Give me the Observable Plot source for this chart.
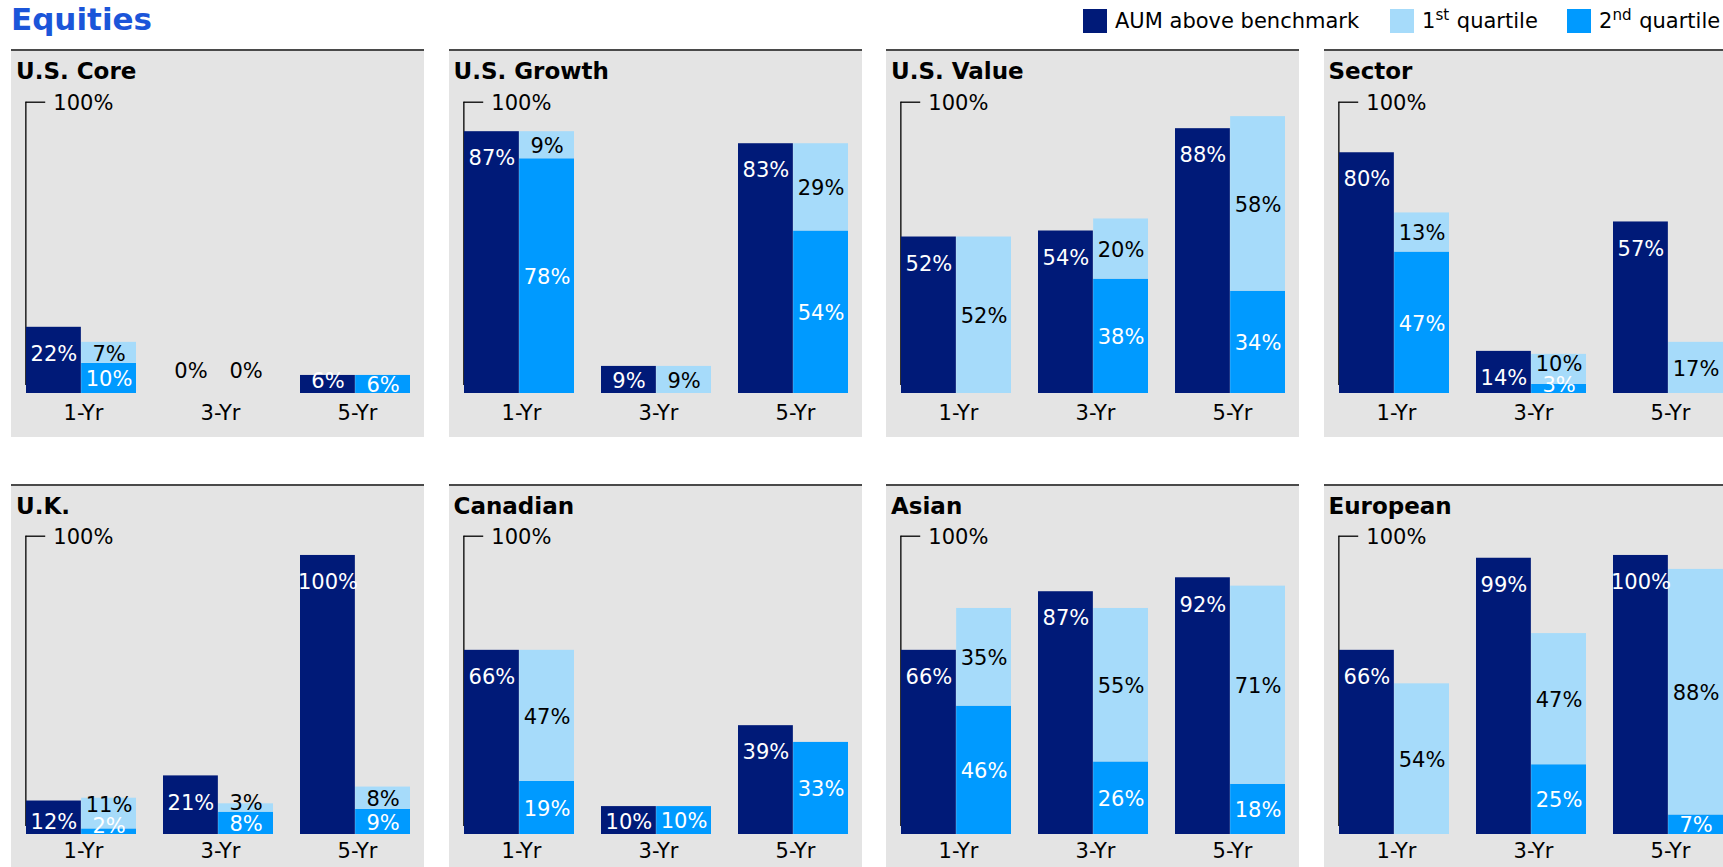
<!DOCTYPE html>
<html>
<head>
<meta charset="utf-8">
<script src="https://cdn.jsdelivr.net/npm/d3@7"></script>
<script src="https://cdn.jsdelivr.net/npm/@observablehq/plot@0.6"></script>
<style>
  html, body { margin: 0; padding: 0; background: #fff; }
  body { width: 1723px; height: 867px; overflow: hidden; font-family: "DejaVu Sans", Verdana, sans-serif; }
  #root { position: relative; width: 1723px; height: 867px; overflow: hidden; }
  .title { position: absolute; left: 11px; top: 4px; font-size: 31px; font-weight: bold; color: #1b55d9; line-height: 1; white-space: nowrap; }
  .legend-item { position: absolute; top: 9px; height: 24px; display: flex; align-items: center; font-size: 21px; line-height: 1; color: #000; white-space: nowrap; }
  .sw { width: 24px; height: 24px; margin-right: 8px; flex: none; }
  .legend-item sup { font-size: 0.72em; line-height: 0; vertical-align: 0.5em; margin-right: 1px; }
  .panel { position: absolute; width: 413px; height: 386px; border-top: 2px solid #4a4a4a; background: #e4e4e4; }
  .ptitle { position: absolute; left: 5px; top: 8.7px; font-size: 23px; font-weight: bold; line-height: 1; color: #000; white-space: nowrap; z-index: 2; }
  .panel svg { position: absolute; left: 0; top: 0; overflow: visible; }
</style>
</head>
<body>
<div id="root"></div>
<script>
// ---------------- data ----------------
const chartTitle = "Equities";
const periods = ["1-Yr", "3-Yr", "5-Yr"];
const panelNames = ["U.S. Core", "U.S. Growth", "U.S. Value", "Sector", "U.K.", "Canadian", "Asian", "European"];
const seriesNames = ["AUM above benchmark", "1st quartile", "2nd quartile"];
const seriesColors = ["#001a78", "#a6dbfa", "#009aff"];
const axisTickLabel = "100%";

// % of AUM above benchmark, per panel, per period
const aumAbove = [
  [22, 0, 6],
  [87, 9, 83],
  [52, 54, 88],
  [80, 14, 57],
  [12, 21, 100],
  [66, 10, 39],
  [66, 87, 92],
  [66, 99, 100]
];
// 1st quartile share (null = not shown)
const firstQuartile = [
  [7, 0, null],
  [9, 9, 29],
  [52, 20, 58],
  [13, 10, 17],
  [11, 3, 8],
  [47, null, null],
  [35, 55, 71],
  [54, 47, 88]
];
// 2nd quartile share (null = not shown)
const secondQuartile = [
  [10, null, 6],
  [78, null, 54],
  [null, 38, 34],
  [47, 3, null],
  [2, 8, 9],
  [19, 10, 33],
  [46, 26, 18],
  [null, 25, 7]
];

// ---------------- layout ----------------
const rowLayout = [
  { top: 49, baseline: 342, marginTop: 50.7, yTop: 96.8, xPad: 12 },
  { top: 484, baseline: 348, marginTop: 49.7, yTop: 106.9, xPad: 9 }
];
const panelW = 413, panelH = 386, colPitch = 437.5, firstLeft = 11;
const mL = 14, mR = 13.7, padInner = 0.198;

const root = document.getElementById("root");

// title
const t = document.createElement("div");
t.className = "title";
t.textContent = chartTitle;
root.appendChild(t);

// legend
const legendLefts = [1083, 1390, 1567];
seriesNames.forEach((name, i) => {
  const item = document.createElement("div");
  item.className = "legend-item";
  item.style.left = legendLefts[i] + "px";
  const sw = document.createElement("span");
  sw.className = "sw";
  sw.style.background = seriesColors[i];
  item.appendChild(sw);
  const lab = document.createElement("span");
  lab.innerHTML = name.replace(/(\d)(st|nd|rd|th)\b/, "$1<sup>$2</sup>");
  item.appendChild(lab);
  root.appendChild(item);
});

function makePanel(idx) {
  const row = Math.floor(idx / 4), col = idx % 4;
  const cfg = rowLayout[row];
  const step = (panelW - mL - mR) / (periods.length - padInner);
  const bw = step * (1 - padInner);
  const k = (cfg.baseline - cfg.marginTop) / cfg.yTop; // px per percentage point

  const darkBars = [], quartBars = [];
  const darkLabels = [], whiteQLabels = [], blackQLabels = [], zeroLabels = [];

  periods.forEach((p, i) => {
    const a = aumAbove[idx][i];
    const q1 = firstQuartile[idx][i];
    const q2 = secondQuartile[idx][i];
    darkBars.push({ period: p, series: seriesNames[0], y1: 0, y2: a });
    if (a === 0) zeroLabels.push({ period: p, side: -1, y: 23.5 / k, text: "0%" });
    else darkLabels.push({ period: p, y: Math.max(a - 26 / k, 13 / k), text: a + "%" });

    let base = 0, yb = null, any = false;
    if (q2 != null && q2 > 0) {
      quartBars.push({ period: p, series: seriesNames[2], y1: 0, y2: q2 });
      yb = Math.max(q2 / 2, 9 / k);
      whiteQLabels.push({ period: p, y: yb, text: q2 + "%" });
      base = q2; any = true;
    }
    if (q1 != null && q1 > 0) {
      quartBars.push({ period: p, series: seriesNames[1], y1: base, y2: base + q1 });
      let yl = base + q1 / 2;
      if (yb != null) yl = Math.max(yl, yb + 21 / k);
      blackQLabels.push({ period: p, y: yl, text: q1 + "%" });
      any = true;
    }
    if (!any && (q1 === 0 || q2 === 0)) zeroLabels.push({ period: p, side: 1, y: 23.5 / k, text: "0%" });
  });

  const txt = { x: "period", y: "y", text: "text", fontSize: 21, dy: 1 };

  const plot = Plot.plot({
    width: panelW,
    height: panelH,
    marginLeft: mL,
    marginRight: mR,
    marginTop: cfg.marginTop,
    marginBottom: panelH - cfg.baseline,
    x: { domain: periods, paddingInner: padInner, paddingOuter: 0 },
    y: { domain: [0, cfg.yTop], axis: null },
    color: { domain: seriesNames, range: seriesColors },
    style: { fontFamily: "DejaVu Sans, Verdana, sans-serif", fontSize: "21px", background: "transparent", overflow: "visible", color: "#000" },
    marks: [
      // vertical axis with its single top tick
      Plot.ruleX([periods[0]], { x: d => d, y1: 8 / k, y2: cfg.yTop, dx: -bw / 2 - 0.5, stroke: "#000", strokeWidth: 1.3 }),
      Plot.tickY([cfg.yTop], { x: () => periods[0], y: d => d, insetRight: bw - 20, dx: -0.5, stroke: "#000", strokeWidth: 1.3 }),
      Plot.text([cfg.yTop], { x: () => periods[0], y: d => d, text: () => axisTickLabel, textAnchor: "start", dx: -bw / 2 + 27, dy: 1.5, fontSize: 21, fill: "#000" }),
      // bars
      Plot.barY(darkBars, { x: "period", y1: "y1", y2: "y2", fill: "series", insetRight: bw / 2 }),
      Plot.barY(quartBars, { x: "period", y1: "y1", y2: "y2", fill: "series", insetLeft: bw / 2 }),
      // value labels
      Plot.text(darkLabels, { ...txt, dx: -bw / 4, fill: "#fff" }),
      Plot.text(whiteQLabels, { ...txt, dx: bw / 4, fill: "#fff" }),
      Plot.text(blackQLabels, { ...txt, dx: bw / 4, fill: "#000" }),
      Plot.text(zeroLabels.filter(d => d.side < 0), { ...txt, dx: -bw / 4, fill: "#000" }),
      Plot.text(zeroLabels.filter(d => d.side > 0), { ...txt, dx: bw / 4, fill: "#000" }),
      // category axis
      Plot.axisX({ tickSize: 0, tickPadding: cfg.xPad, fontSize: 21, dx: 2, label: null, fill: "#000" })
    ]
  });

  const div = document.createElement("div");
  div.className = "panel";
  div.style.left = (firstLeft + col * colPitch) + "px";
  div.style.top = cfg.top + "px";
  const title = document.createElement("div");
  title.className = "ptitle";
  title.textContent = panelNames[idx];
  div.appendChild(plot);
  div.appendChild(title);
  root.appendChild(div);
}

panelNames.forEach((_, i) => makePanel(i));
</script>
</body>
</html>
